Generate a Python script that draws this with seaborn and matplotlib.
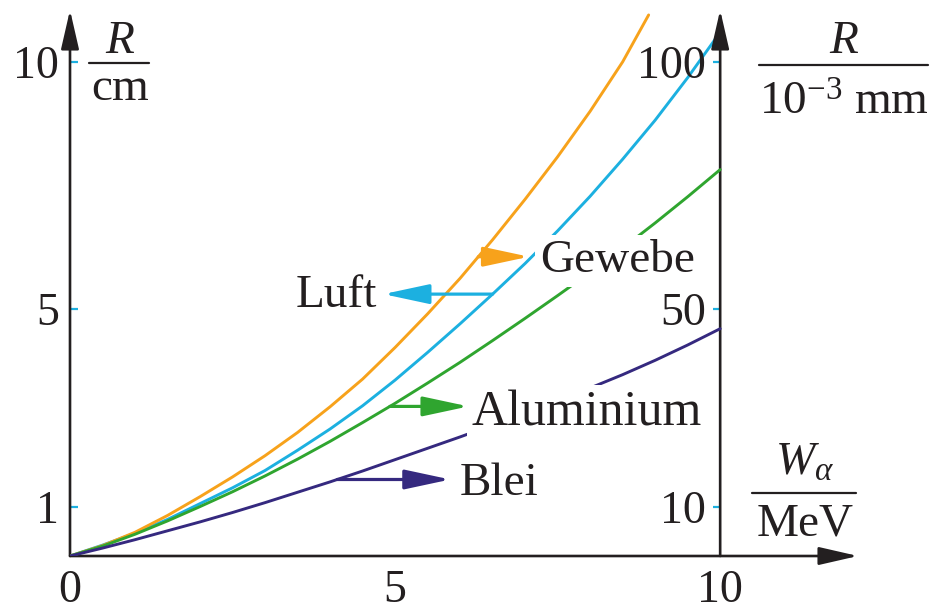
import numpy as np
import matplotlib
matplotlib.use("Agg")
import matplotlib.pyplot as plt
import seaborn as sns
from matplotlib.lines import Line2D

# ---------------- data ----------------
energy_MeV = [0, 0.5, 1, 1.5, 2, 2.5, 3, 3.5, 4, 4.5, 5, 5.5, 6, 6.5, 7,
              7.5, 8, 8.5, 9, 9.5, 10]
energy_tissue_MeV = [0, 0.5, 1, 1.5, 2, 2.5, 3, 3.5, 4, 4.5, 5, 5.5, 6, 6.5,
                     7, 7.5, 8, 8.5, 8.9]

# Luft: range in cm (left axis)
range_air_cm = [0, 0.22, 0.46, 0.74, 1.06, 1.38, 1.73, 2.14, 2.57, 3.04, 3.56,
                4.12, 4.70, 5.30, 5.92, 6.58, 7.28, 8.03, 8.82, 9.68, 10.60]
# Gewebe, Aluminium, Blei: range in 10^-3 mm (right axis)
range_tissue_um = [0, 2.1, 4.8, 8.2, 12.0, 16.0, 20.3, 25.0, 30.2, 35.8, 42.2,
                   49.0, 56.2, 64.0, 72.2, 80.8, 90.0, 100.0, 109.5]
range_al_um = [0, 2.0, 4.4, 7.1, 10.0, 13.0, 16.2, 19.6, 23.2, 27.0, 30.9,
               35.0, 39.2, 43.6, 48.1, 52.7, 57.4, 62.3, 67.4, 72.7, 78.2]
range_pb_um = [0, 1.6, 3.3, 5.1, 6.9, 8.8, 10.8, 12.9, 15.0, 17.2, 19.5,
               21.8, 24.1, 26.5, 28.9, 31.4, 34.0, 36.7, 39.6, 42.7, 46.0]

x_ticks = [0, 5, 10]
x_minor_ticks = [1, 2, 3, 4, 5, 6, 7, 8, 9]
left_ticks = [1, 5, 10]
right_ticks = [10, 50, 100]

labels = {"air": "Luft", "tissue": "Gewebe", "al": "Aluminium", "pb": "Blei"}

# ---------------- style ----------------
INK = "#231f20"
CYAN = "#1cb0e0"
ORANGE = "#f7a21b"
GREEN = "#2fa52f"
PURPLE = "#35297f"

sns.set_style("white")
plt.rcParams["font.family"] = ["Liberation Serif", "DejaVu Serif"]
plt.rcParams["mathtext.fontset"] = "custom"
plt.rcParams["mathtext.rm"] = "Liberation Serif"
plt.rcParams["mathtext.it"] = "Liberation Serif:italic"

XMAX, YMAX = 12.12, 11.05
FS = 33

fig = plt.figure(figsize=(9.38, 6.12), dpi=100)
ax = fig.add_axes([70 / 938, 56 / 612, (858 - 70) / 938, (556 - 10) / 612])
ax2 = ax.twinx()

lw = 2.1
sns.lineplot(x=energy_MeV, y=range_air_cm, ax=ax, color=CYAN, lw=lw, zorder=2)
sns.lineplot(x=energy_tissue_MeV, y=range_tissue_um, ax=ax2, color=ORANGE, lw=lw, zorder=2)
sns.lineplot(x=energy_MeV, y=range_al_um, ax=ax2, color=GREEN, lw=lw, zorder=2)
sns.lineplot(x=energy_MeV, y=range_pb_um, ax=ax2, color=PURPLE, lw=lw, zorder=2)

ax.set_xlim(0, XMAX)
ax.set_ylim(0, YMAX)
ax2.set_ylim(0, YMAX * 10)
for a in (ax, ax2):
    a.set_xlabel("")
    a.set_ylabel("")
    for s in a.spines.values():
        s.set_visible(False)

# ticks
ax.set_xticks(x_ticks)
ax.set_xticklabels([str(t) for t in x_ticks])
ax.set_xticks(x_minor_ticks, minor=True)
ax.tick_params(axis="x", which="both", direction="in", length=5, width=1.6,
               color=CYAN, labelsize=FS, labelcolor=INK, pad=10, top=False)
ax.set_yticks(left_ticks)
ax.set_yticklabels([str(t) for t in left_ticks])
ax.tick_params(axis="y", direction="in", length=5.5, width=1.6, color=CYAN,
               labelsize=FS, labelcolor=INK, pad=8, right=False)

ax2.spines["left"].set_position(("data", 10))
ax2.yaxis.tick_left()
ax2.set_yticks(right_ticks)
ax2.set_yticklabels([str(t) for t in right_ticks])
ax2.tick_params(axis="y", direction="out", length=5, width=1.6, color=CYAN,
                labelsize=FS, labelcolor=INK, pad=5, left=True, right=False,
                labelleft=True, labelright=False)

# axis lines with arrow heads
axis_arrow = dict(arrowstyle="-|>,head_length=24,head_width=5.5", color=INK,
                  lw=1.9, shrinkA=0, shrinkB=0, mutation_scale=1)
ax.annotate("", xy=(0, YMAX), xytext=(0, 0), arrowprops=axis_arrow, annotation_clip=False)
ax.annotate("", xy=(XMAX, 0), xytext=(0, 0), arrowprops=axis_arrow, annotation_clip=False)
ax2.annotate("", xy=(10, YMAX * 10), xytext=(10, 0), arrowprops=axis_arrow,
             annotation_clip=False, zorder=1)

# curve labels with arrows (in left-axis units)
air_y = np.array(range_air_cm)
tis_y = np.array(range_tissue_um) / 10
al_y = np.array(range_al_um) / 10
pb_y = np.array(range_pb_um) / 10

def lab_arrow(x0, y0, x1, color):
    ax2.annotate("", xy=(x1, y0), xytext=(x0, y0), xycoords=ax.transData,
                 textcoords=ax.transData, annotation_clip=False, zorder=6,
                 arrowprops=dict(arrowstyle="-|>,head_length=28,head_width=6",
                                 color=color, lw=2.3, shrinkA=0, shrinkB=0,
                                 mutation_scale=1))

box = dict(boxstyle="square,pad=0.1", fc="white", ec="none")

xa = 6.5
lab_arrow(xa, np.interp(xa, energy_MeV, air_y), 4.82, CYAN)
xt = 6.28
lab_arrow(xt, np.interp(xt, energy_tissue_MeV, tis_y), 7.06, ORANGE)
xl = 4.92
lab_arrow(xl, np.interp(xl, energy_MeV, al_y), 6.13, GREEN)
xp = 4.11
lab_arrow(xp, np.interp(xp, energy_MeV, pb_y), 5.85, PURPLE)

ax2.text(4.72, 5.04, labels["air"], transform=ax.transData, fontsize=34, color=INK,
         ha="right", va="baseline", bbox=box, zorder=5)
ax2.text(7.23, 5.75, labels["tissue"], transform=ax.transData, fontsize=34, color=INK,
         ha="left", va="baseline", bbox=box, zorder=5)
ax2.text(6.18, 2.65, labels["al"], transform=ax.transData, fontsize=36, color=INK,
         ha="left", va="baseline", bbox=box, zorder=5)
ax2.text(6.0, 1.23, labels["pb"], transform=ax.transData, fontsize=34, color=INK,
         ha="left", va="baseline", bbox=box, zorder=5)

# fraction-style axis labels
H = 612.0
W = 938.0
def fx(px):
    return px / W
def fy(py):
    return 1 - py / H

def frac(cx, num, den, y_num, y_bar, y_den, x0, x1, fs=34):
    fig.text(fx(cx), fy(y_num), num, fontsize=fs, color=INK, ha="center", va="baseline")
    fig.add_artist(Line2D([fx(x0), fx(x1)], [fy(y_bar), fy(y_bar)],
                          transform=fig.transFigure, color=INK, lw=1.6))
    fig.text(fx(cx), fy(y_den), den, fontsize=fs, color=INK, ha="center", va="baseline")

frac(120, r"$R$", "cm", 53, 63, 100, 89, 149)
frac(844, r"$R$", r"$\mathregular{10^{-3}\ mm}$", 53, 65, 115, 759, 928)
frac(805, r"$W_\alpha$", "MeV", 475, 493, 535, 752, 856)

fig.savefig("out.png", dpi=100)
